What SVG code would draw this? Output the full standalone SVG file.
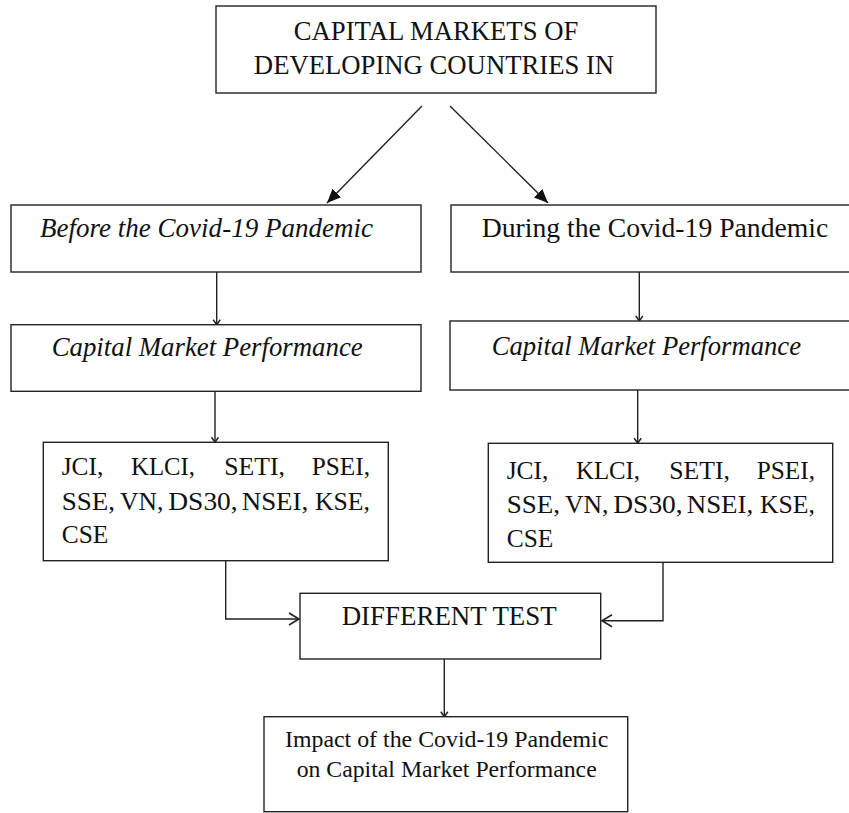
<svg xmlns="http://www.w3.org/2000/svg" width="849" height="813" viewBox="0 0 849 813">
<style>
.box{fill:#fff;stroke:#222;stroke-width:1.4}
.t{font-family:"Liberation Serif","Times New Roman",serif;font-size:26.7px;fill:#111}
.i{font-style:italic}
.c{text-anchor:middle}
.s{font-size:23.8px}
.x{font-size:26px}
.ln{fill:none;stroke:#222;stroke-width:1.4}
</style>
<defs>
<marker id="fill" markerUnits="userSpaceOnUse" markerWidth="16" markerHeight="14" refX="14" refY="7" orient="auto">
<path d="M0,1 L14,7 L0,13 Z" fill="#111"/>
</marker>
<marker id="small" markerUnits="userSpaceOnUse" markerWidth="8" markerHeight="10" refX="6" refY="5" orient="auto">
<path d="M1,1.5 L6,5 L1,8.5" fill="none" stroke="#222" stroke-width="1.5"/>
</marker>
<marker id="open" markerUnits="userSpaceOnUse" markerWidth="14" markerHeight="16" refX="12" refY="8" orient="auto">
<path d="M2,2 L12,8 L2,14" fill="none" stroke="#222" stroke-width="1.6"/>
</marker>
</defs>
<rect width="849" height="813" fill="#fff"/>

<g id="connectors">
<line class="ln" x1="422" y1="106" x2="327" y2="203" marker-end="url(#fill)"/>
<line class="ln" x1="450" y1="106" x2="548" y2="203" marker-end="url(#fill)"/>
<line class="ln" x1="216.7" y1="272" x2="216.7" y2="324.7" marker-end="url(#small)"/>
<line class="ln" x1="639.3" y1="272" x2="639.3" y2="321" marker-end="url(#small)"/>
<line class="ln" x1="215" y1="391.3" x2="215" y2="442.3" marker-end="url(#small)"/>
<line class="ln" x1="637.7" y1="390" x2="637.7" y2="443.3" marker-end="url(#small)"/>
<polyline class="ln" points="225.7,560.7 225.7,619 299,619" marker-end="url(#open)"/>
<polyline class="ln" points="663,562.3 663,620.7 602,620.7" marker-end="url(#open)"/>
<line class="ln" x1="444.3" y1="659" x2="444.3" y2="716.7" marker-end="url(#small)"/>
</g>

<g id="top">
<rect class="box" x="216" y="6" width="440" height="87"/>
<text class="t c" x="436" y="40">CAPITAL MARKETS OF</text>
<text class="t c" x="434" y="74">DEVELOPING COUNTRIES IN</text>
</g>

<g id="before">
<rect class="box" x="11" y="205" width="410" height="67"/>
<text class="t i" x="40" y="236.7" textLength="333" lengthAdjust="spacingAndGlyphs">Before the Covid-19 Pandemic</text>
</g>

<g id="during">
<rect class="box" x="451" y="205" width="410" height="67"/>
<text class="t" x="481.7" y="236.7" textLength="346.6" lengthAdjust="spacingAndGlyphs">During the Covid-19 Pandemic</text>
</g>

<g id="perf-left">
<rect class="box" x="11" y="324.7" width="410" height="66.6"/>
<text class="t i" x="51.7" y="355.7" textLength="311" lengthAdjust="spacingAndGlyphs">Capital Market Performance</text>
</g>

<g id="perf-right">
<rect class="box" x="450" y="321" width="410" height="69"/>
<text class="t i" x="491.7" y="355" textLength="309.3" lengthAdjust="spacingAndGlyphs">Capital Market Performance</text>
</g>

<g id="indices-left">
<rect class="box" x="43.3" y="442.3" width="345" height="118.4"/>
<text class="t x" x="61.7" y="475" textLength="41.6" lengthAdjust="spacingAndGlyphs">JCI,</text>
<text class="t x" x="131" y="475" textLength="64" lengthAdjust="spacingAndGlyphs">KLCI,</text>
<text class="t x" x="224.3" y="475" textLength="60.7" lengthAdjust="spacingAndGlyphs">SETI,</text>
<text class="t x" x="311.7" y="475" textLength="58.3" lengthAdjust="spacingAndGlyphs">PSEI,</text>
<text class="t x" x="61.7" y="509.5" textLength="53.3" lengthAdjust="spacingAndGlyphs">SSE,</text>
<text class="t x" x="120" y="509.5" textLength="43.3" lengthAdjust="spacingAndGlyphs">VN,</text>
<text class="t x" x="168.3" y="509.5" textLength="69.4" lengthAdjust="spacingAndGlyphs">DS30,</text>
<text class="t x" x="241.7" y="509.5" textLength="66.6" lengthAdjust="spacingAndGlyphs">NSEI,</text>
<text class="t x" x="315" y="509.5" textLength="55" lengthAdjust="spacingAndGlyphs">KSE,</text>
<text class="t x" x="61.7" y="543" textLength="46.6" lengthAdjust="spacingAndGlyphs">CSE</text>
</g>

<g id="indices-right">
<rect class="box" x="488.3" y="443.3" width="344.4" height="119"/>
<text class="t x" x="506.7" y="478.5" textLength="41.6" lengthAdjust="spacingAndGlyphs">JCI,</text>
<text class="t x" x="576" y="478.5" textLength="64" lengthAdjust="spacingAndGlyphs">KLCI,</text>
<text class="t x" x="669.3" y="478.5" textLength="60.7" lengthAdjust="spacingAndGlyphs">SETI,</text>
<text class="t x" x="756.7" y="478.5" textLength="58.3" lengthAdjust="spacingAndGlyphs">PSEI,</text>
<text class="t x" x="506.7" y="513" textLength="53.3" lengthAdjust="spacingAndGlyphs">SSE,</text>
<text class="t x" x="565" y="513" textLength="43.3" lengthAdjust="spacingAndGlyphs">VN,</text>
<text class="t x" x="613.3" y="513" textLength="69.4" lengthAdjust="spacingAndGlyphs">DS30,</text>
<text class="t x" x="686.7" y="513" textLength="66.6" lengthAdjust="spacingAndGlyphs">NSEI,</text>
<text class="t x" x="760" y="513" textLength="55" lengthAdjust="spacingAndGlyphs">KSE,</text>
<text class="t x" x="506.7" y="546.5" textLength="46.6" lengthAdjust="spacingAndGlyphs">CSE</text>
</g>

<g id="test">
<rect class="box" x="300" y="593.3" width="300.7" height="65.7"/>
<text class="t" x="341.7" y="625" textLength="215" lengthAdjust="spacingAndGlyphs">DIFFERENT TEST</text>
</g>

<g id="impact">
<rect class="box" x="264" y="716.7" width="363.7" height="95"/>
<text class="t s" x="285" y="746.7" textLength="323.3" lengthAdjust="spacingAndGlyphs">Impact of the Covid-19 Pandemic</text>
<text class="t s" x="296.7" y="776.7" textLength="300" lengthAdjust="spacingAndGlyphs">on Capital Market Performance</text>
</g>
</svg>
